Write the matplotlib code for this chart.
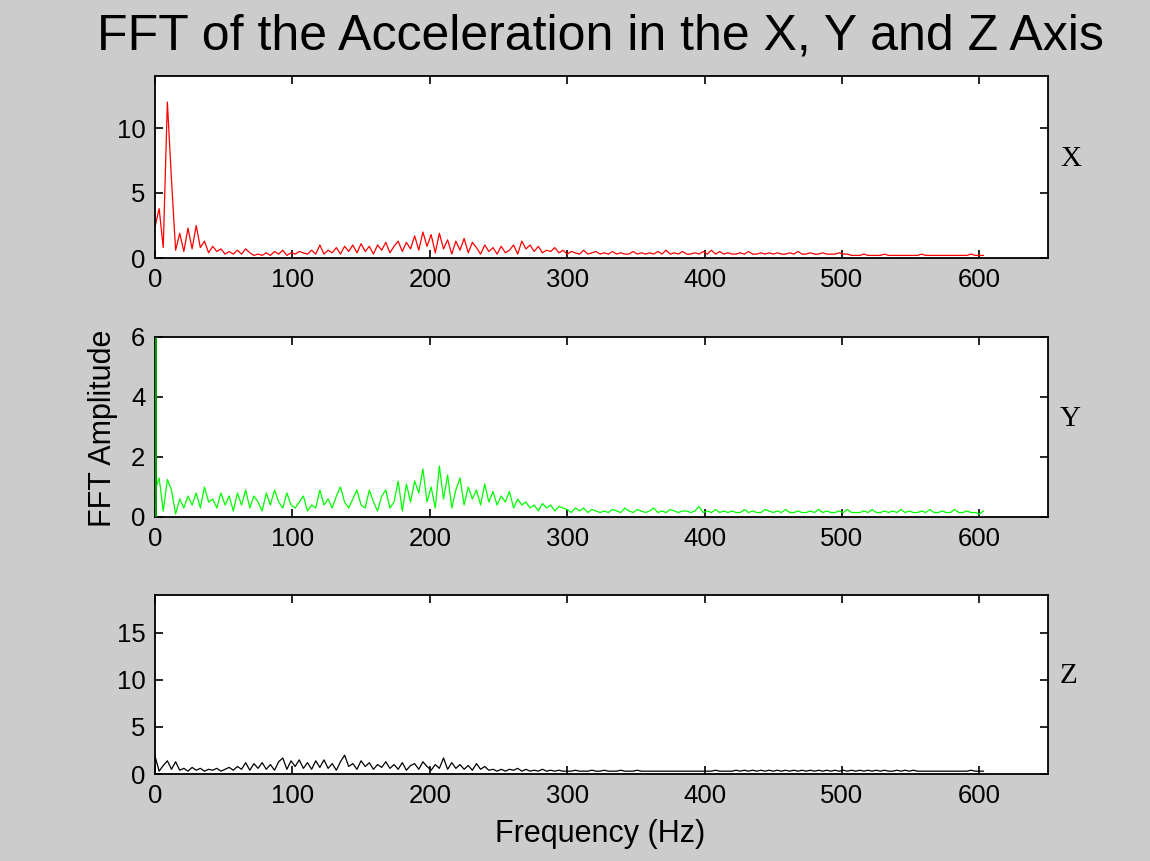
import numpy as np
import matplotlib
matplotlib.use("Agg")
import matplotlib.pyplot as plt

# ---------------- data ----------------
freq_step_hz = 3
x_accel = [
    2.4, 3.8, 0.8, 12.0, 6.0, 0.6, 1.9, 0.5, 2.3, 0.7,
    2.5, 0.8, 1.3, 0.4, 0.9, 0.5, 0.7, 0.3, 0.5, 0.3,
    0.6, 0.3, 0.7, 0.4, 0.2, 0.3, 0.2, 0.4, 0.2, 0.5,
    0.3, 0.6, 0.2, 0.4, 0.3, 0.5, 0.4, 0.3, 0.6, 0.3,
    1.0, 0.3, 0.6, 0.4, 0.8, 0.3, 0.9, 0.5, 1.0, 0.4,
    1.1, 0.5, 0.9, 0.3, 1.0, 0.6, 1.2, 0.4, 0.9, 1.3,
    0.5, 1.2, 0.7, 1.7, 0.6, 2.0, 0.9, 1.8, 0.4, 1.9,
    0.7, 1.4, 0.3, 1.3, 0.6, 1.5, 0.4, 1.2, 0.8, 0.3,
    1.0, 0.5, 0.8, 0.3, 0.9, 0.4, 0.6, 1.0, 0.3, 1.3,
    0.7, 1.0, 0.5, 0.9, 0.4, 0.6, 0.5, 0.8, 0.4, 0.6,
    0.3, 0.5, 0.4, 0.3, 0.6, 0.3, 0.4, 0.5, 0.3, 0.4,
    0.3, 0.5, 0.3, 0.4, 0.3, 0.3, 0.5, 0.3, 0.4, 0.3,
    0.4, 0.3, 0.5, 0.3, 0.6, 0.3, 0.4, 0.3, 0.5, 0.3,
    0.3, 0.4, 0.3, 0.5, 0.3, 0.6, 0.3, 0.5, 0.3, 0.4,
    0.3, 0.3, 0.4, 0.3, 0.5, 0.3, 0.3, 0.4, 0.3, 0.4,
    0.3, 0.4, 0.3, 0.3, 0.4, 0.3, 0.5, 0.3, 0.3, 0.4,
    0.3, 0.3, 0.4, 0.3, 0.3, 0.3, 0.4, 0.3, 0.3, 0.2,
    0.2, 0.2, 0.3, 0.2, 0.2, 0.2, 0.2, 0.3, 0.2, 0.2,
    0.2, 0.2, 0.2, 0.2, 0.2, 0.2, 0.3, 0.2, 0.2, 0.2,
    0.2, 0.2, 0.2, 0.2, 0.2, 0.2, 0.2, 0.2, 0.3, 0.2,
    0.2, 0.2,
]
y_dc_peak = 6.0
y_accel = [
    0.9, 1.3, 0.2, 1.25, 0.9, 0.1, 0.6, 0.3, 0.7, 0.4,
    0.8, 0.3, 1.0, 0.5, 0.6, 0.3, 0.8, 0.4, 0.7, 0.2,
    0.8, 0.4, 0.9, 0.3, 0.7, 0.5, 0.2, 0.8, 0.4, 0.9,
    0.5, 0.3, 0.8, 0.4, 0.3, 0.5, 0.7, 0.2, 0.4, 0.3,
    0.9, 0.4, 0.6, 0.3, 0.7, 1.0, 0.5, 0.3, 0.6, 0.9,
    0.4, 0.3, 0.9, 0.5, 0.2, 0.7, 0.9, 0.3, 0.5, 1.2,
    0.2, 1.1, 0.5, 1.2, 0.8, 1.6, 0.5, 1.0, 0.3, 1.7,
    0.6, 1.4, 0.3, 0.9, 1.3, 0.4, 1.0, 0.6, 0.9, 0.4,
    1.1, 0.5, 0.85, 0.4, 0.7, 0.5, 0.85, 0.3, 0.6, 0.4,
    0.5, 0.3, 0.4, 0.2, 0.45, 0.3, 0.4, 0.2, 0.35, 0.3,
    0.25, 0.15, 0.3, 0.2, 0.3, 0.15, 0.25, 0.2, 0.15, 0.2,
    0.15, 0.25, 0.2, 0.15, 0.3, 0.2, 0.15, 0.25, 0.2, 0.15,
    0.2, 0.3, 0.15, 0.2, 0.15, 0.25, 0.2, 0.15, 0.2, 0.2,
    0.15, 0.2, 0.35, 0.15, 0.2, 0.15, 0.25, 0.15, 0.2, 0.15,
    0.2, 0.15, 0.15, 0.25, 0.15, 0.2, 0.15, 0.15, 0.25, 0.2,
    0.15, 0.2, 0.15, 0.25, 0.15, 0.15, 0.2, 0.15, 0.15, 0.2,
    0.15, 0.25, 0.15, 0.2, 0.15, 0.15, 0.2, 0.15, 0.25, 0.15,
    0.15, 0.15, 0.2, 0.15, 0.25, 0.15, 0.15, 0.2, 0.15, 0.2,
    0.15, 0.25, 0.15, 0.2, 0.15, 0.15, 0.2, 0.15, 0.25, 0.15,
    0.15, 0.2, 0.15, 0.15, 0.25, 0.15, 0.15, 0.2, 0.15, 0.15,
    0.1, 0.2,
]
z_accel = [
    1.9, 0.3, 0.9, 1.4, 0.5, 1.3, 0.4, 0.6, 0.3, 0.7,
    0.4, 0.6, 0.3, 0.5, 0.4, 0.6, 0.3, 0.5, 0.7, 0.4,
    0.8, 0.5, 1.2, 0.4, 1.1, 0.6, 1.2, 0.5, 1.0, 0.4,
    1.3, 1.7, 0.5, 1.4, 0.8, 1.5, 0.6, 1.2, 0.5, 1.4,
    0.7, 1.5, 0.6, 1.1, 0.4, 1.3, 2.0, 0.8, 1.1, 0.5,
    1.4, 0.8, 1.2, 0.5, 1.0, 0.7, 1.3, 0.6, 1.0, 0.5,
    1.2, 0.4, 0.9, 1.1, 0.5, 1.3, 0.8, 0.4, 1.0, 0.6,
    1.7, 0.5, 1.2, 0.6, 1.0, 0.5, 0.9, 0.4, 1.1, 0.5,
    0.8, 0.4, 0.5, 0.3, 0.5, 0.3, 0.5, 0.4, 0.6, 0.3,
    0.5, 0.3, 0.4, 0.3, 0.5, 0.3, 0.4, 0.3, 0.4, 0.3,
    0.3, 0.3, 0.4, 0.3, 0.3, 0.3, 0.4, 0.3, 0.3, 0.4,
    0.3, 0.3, 0.3, 0.4, 0.3, 0.3, 0.3, 0.4, 0.3, 0.3,
    0.3, 0.3, 0.3, 0.3, 0.3, 0.3, 0.3, 0.3, 0.3, 0.3,
    0.3, 0.3, 0.3, 0.3, 0.3, 0.3, 0.4, 0.3, 0.3, 0.3,
    0.3, 0.4, 0.3, 0.4, 0.3, 0.4, 0.3, 0.4, 0.3, 0.4,
    0.3, 0.4, 0.3, 0.4, 0.3, 0.4, 0.3, 0.4, 0.3, 0.4,
    0.3, 0.4, 0.3, 0.4, 0.3, 0.4, 0.3, 0.4, 0.3, 0.4,
    0.3, 0.4, 0.3, 0.4, 0.3, 0.4, 0.3, 0.4, 0.3, 0.3,
    0.4, 0.3, 0.4, 0.3, 0.4, 0.3, 0.3, 0.3, 0.3, 0.3,
    0.3, 0.3, 0.3, 0.3, 0.3, 0.3, 0.3, 0.3, 0.4, 0.3,
    0.3, 0.3,
]
axis_names = ["X", "Y", "Z"]
line_colors = ["#ff0000", "#00ff00", "#000000"]
y_limits = [(0, 14), (0, 6), (0, 19)]
y_tick_lists = [[0, 5, 10], [0, 2, 4, 6], [0, 5, 10, 15]]
x_ticks = [0, 100, 200, 300, 400, 500, 600]
series = [x_accel, y_accel, z_accel]
dc_peaks = [None, y_dc_peak, None]

# ---------------- figure ----------------
W, H = 1150, 861
fig = plt.figure(figsize=(W / 100, H / 100), dpi=100, facecolor="#cccccc")
plt.rcParams["font.family"] = ["Liberation Sans", "DejaVu Sans"]

# axes boxes in pixels (left, top, right, bottom)
boxes = [(155, 76, 1048, 258), (155, 337, 1048, 517), (155, 595, 1048, 774)]

for box, vals, name, col, ylim, yt, dc in zip(boxes, series, axis_names, line_colors,
                                               y_limits, y_tick_lists, dc_peaks):
    l, t, r, b = box
    ax = fig.add_axes([l / W, 1 - b / H, (r - l) / W, (b - t) / H])
    ax.set_facecolor("white")
    freqs = np.arange(len(vals)) * freq_step_hz
    ax.plot(freqs, vals, color=col, lw=0.9)
    if dc is not None:
        ax.vlines(0, 0, dc, color="#00a000", lw=2.2, zorder=3)
    ax.set_xlim(0, 650)
    ax.set_ylim(*ylim)
    ax.set_xticks(x_ticks)
    ax.set_yticks(yt)
    ax.tick_params(direction="in", top=True, right=True, length=6, width=1.2,
                   labelsize=18.5, pad=7, colors="black")
    for s in ax.spines.values():
        s.set_linewidth(1.3)
        s.set_color("black")
    ax.text(1 + 12 / (r - l), 0.545, name, transform=ax.transAxes, ha="left",
            va="center", fontsize=21, family=["Liberation Serif", "DejaVu Serif"])

fig.text(600 / W, 1 - 37 / H, "FFT of the Acceleration in the X, Y and Z Axis",
         ha="center", va="center", fontsize=36)
fig.text(103 / W, 1 - 428 / H, "FFT Amplitude", rotation=90, ha="center",
         va="center", fontsize=22)
fig.text(600 / W, 1 - 834 / H, "Frequency (Hz)", ha="center", va="center",
         fontsize=22)

fig.savefig("out.png", dpi=100, facecolor=fig.get_facecolor())
